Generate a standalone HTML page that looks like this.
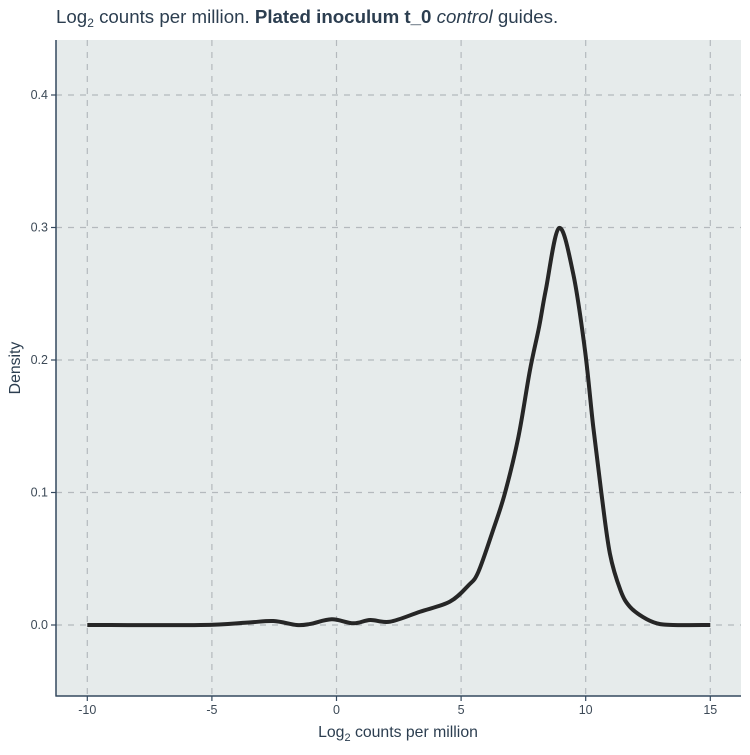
<!DOCTYPE html>
<html><head><meta charset="utf-8"><style>
body{margin:0;background:#fff;width:750px;height:750px;overflow:hidden;font-family:"Liberation Sans",sans-serif}
</style></head><body>
<svg width="750" height="750" id="chart" style="font-family:'Liberation Sans',sans-serif">
<text x="56" y="23" font-size="18.7" fill="#2c3e50">Log<tspan font-size="12" dy="4">2</tspan><tspan dy="-4"> counts per million. </tspan><tspan font-weight="bold">Plated inoculum t_0</tspan> <tspan font-style="italic">control</tspan> guides.</text>
<rect x="56" y="40" width="685" height="656" fill="#e6ebeb"/>
<g id="grid"></g>
<g id="ticks"></g>
<path id="curve" fill="none" stroke="#262626" stroke-width="4" stroke-linejoin="round"/>
<line x1="56" y1="40" x2="56" y2="696.5" stroke="#34495e" stroke-width="1.5"/>
<line x1="55.5" y1="696" x2="741" y2="696" stroke="#34495e" stroke-width="1.5"/>
<text x="398" y="737" font-size="15.8" fill="#2c3e50" text-anchor="middle">Log<tspan font-size="11" dy="4">2</tspan><tspan dy="-4"> counts per million</tspan></text>
<text x="20" y="368" font-size="15.8" fill="#2c3e50" text-anchor="middle" transform="rotate(-90 20 368)">Density</text>
</svg>
<script>
const xTicks=[-10,-5,0,5,10,15];
const yTicks=[0,0.1,0.2,0.3,0.4];
const yTickLabels=["0.0","0.1","0.2","0.3","0.4"];
const xs=[-10,-5.45,-3.6,-2.53,-1.6,-1.05,-0.19,0.68,1.35,2.15,3.35,4.55,5.3,5.69,6.29,6.76,7.3,7.76,8.13,8.4,8.93,9.5,9.97,10.3,10.63,10.97,11.4,11.77,12.3,12.85,13.5,15];
const ys=[0,0,0.0018,0.003,0,0.0008,0.0043,0.0013,0.0038,0.0025,0.010,0.0176,0.030,0.040,0.072,0.0996,0.142,0.192,0.225,0.253,0.2996,0.265,0.2075,0.15,0.0994,0.054,0.026,0.0138,0.006,0.0013,0,0];
const sx=v=>336.5+v*24.92;
const sy=v=>625-v*1325;
const ns="http://www.w3.org/2000/svg";
const grid=document.getElementById('grid'),ticks=document.getElementById('ticks');
function mk(tag,attrs,parent){const e=document.createElementNS(ns,tag);for(const k in attrs)e.setAttribute(k,attrs[k]);parent.appendChild(e);return e;}
xTicks.forEach(v=>{
 const g=mk('line',{x1:sx(v),x2:sx(v),y1:40,y2:696,stroke:'#b4b9bd','stroke-width':1.2,'stroke-dasharray':'6,6'},grid);
 
 
 const t=mk('line',{x1:sx(v),x2:sx(v),y1:696,y2:701,stroke:'#34495e','stroke-width':1.2},ticks);
 
 
 const l=mk('text',{x:sx(v),y:714,'font-size':12.5,fill:'#3d4a57','text-anchor':'middle'},ticks);l.textContent=v;
 
 
});
yTicks.forEach((v,i)=>{
 const g=mk('line',{x1:56,x2:741,y1:sy(v),y2:sy(v),stroke:'#b4b9bd','stroke-width':1.2,'stroke-dasharray':'6,6'},grid);
 
 
 const t=mk('line',{x1:51,x2:56,y1:sy(v),y2:sy(v),stroke:'#34495e','stroke-width':1.2},ticks);
 
 
 const l=mk('text',{x:48,y:sy(v)+4,'font-size':12.5,fill:'#3d4a57','text-anchor':'end'},ticks);l.textContent=yTickLabels[i];
 
 
});
const P=xs.map((x,i)=>[sx(x),sy(ys[i])]);
let d='M'+P[0][0]+','+P[0][1];
for(let i=0;i<P.length-1;i++){
 const p0=P[Math.max(0,i-1)],p1=P[i],p2=P[i+1],p3=P[Math.min(P.length-1,i+2)];
 const c1=[p1[0]+(p2[0]-p0[0])/6,p1[1]+(p2[1]-p0[1])/6];
 const c2=[p2[0]-(p3[0]-p1[0])/6,p2[1]-(p3[1]-p1[1])/6];
 d+=' C'+c1+' '+c2+' '+p2;
}
document.getElementById('curve').setAttribute('d',d);
</script>
</body></html>
